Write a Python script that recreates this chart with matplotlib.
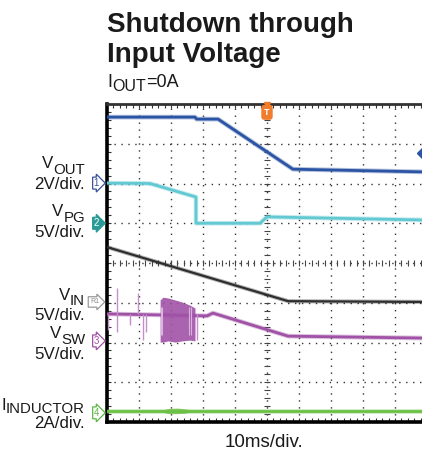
import matplotlib
matplotlib.use("Agg")
import matplotlib.pyplot as plt
import numpy as np

W, H = 422, 454
plt.rcParams["font.family"] = ["Liberation Sans", "DejaVu Sans"]

# Traces in scope divisions: x 0..10 div (10 ms/div), y 0..8 div
top_x = [0.0, 2.75, 2.8, 3.47, 5.81, 10.0]
top_y = [7.67, 7.67, 7.62, 7.62, 6.36, 6.29]

vout_x = [0.0, 1.34, 2.78, 2.78, 4.78, 5.0, 10.0]
vout_y = [6.01, 6.0, 5.66, 5.0, 5.0, 5.16, 5.08]

vin_x = [0.0, 5.66, 10.0]
vin_y = [4.40, 3.04, 3.02]

vsw_x = [0.0, 3.13, 3.31, 5.66, 10.0]
vsw_y = [2.72, 2.67, 2.74, 2.16, 2.11]
vsw_spike_x = [0.03, 0.31, 0.72, 0.97, 1.12, 1.22, 2.8]
vsw_spike_top = [2.72, 3.37, 2.72, 3.25, 2.72, 2.72, 2.72]
vsw_spike_bot = [2.31, 2.26, 2.44, 2.72, 2.06, 2.26, 2.06]
burst_x = [1.66, 1.75, 1.91, 2.13, 2.34, 2.59, 2.75]
burst_top = [3.07, 3.14, 3.12, 3.07, 3.02, 2.94, 2.87]
burst_bot = [2.01, 2.01, 2.04, 2.01, 2.04, 2.06, 2.04]
burst_gap_x = [1.68, 1.72, 2.55, 2.62]

il_x = [0.0, 10.0]
il_y = [0.28, 0.28]
il_bump_x = [1.75, 1.9, 2.2, 2.45, 2.6]
il_bump_top = [0.30, 0.34, 0.35, 0.33, 0.30]
il_bump_bot = [0.25, 0.21, 0.21, 0.22, 0.26]

# channel markers: text, level (div), edge colour, face colour, text colour
markers = [
    ("1", 6.01, "#3b4f9c", "white", "#3b4f9c"),
    ("2", 5.0, "#2a9a96", "#2a9a96", "white"),
    ("R1", 3.02, "#9a9a9a", "white", "#8a8a8a"),
    ("3", 2.04, "#a04fa6", "white", "#a04fa6"),
    ("4", 0.23, "#5fb646", "white", "#5fb646"),
]

BLUE = "#2c54a4"
CYAN = "#62c9d3"
BLACK = "#2e2e2e"
PURPLE = "#a052a6"
GREEN = "#6cc046"
ORANGE = "#f07d2c"

fig = plt.figure(figsize=(W / 100, H / 100), dpi=100)
ax = fig.add_axes([107 / W, (H - 422) / H, 320 / W, 318 / H])
ax.set_xlim(0, 10)
ax.set_ylim(0, 8)

# graticule
for gx in range(1, 10):
    ax.axvline(gx, color="#333333", lw=1.0, ls=(0, (1, 4.0)), zorder=1)
for gy in range(1, 8):
    ax.axhline(gy, color="#333333", lw=1.0, ls=(0, (1, 4.0)), zorder=1)
fine_x = np.arange(0, 10.01, 0.2)
fine_y = np.arange(0, 8.01, 0.2)
ax.plot(fine_x, np.full_like(fine_x, 4), ls="none", marker="|", ms=4, mew=0.8,
        color="#444444", zorder=1)
ax.plot(np.full_like(fine_y, 5), fine_y, ls="none", marker="_", ms=4, mew=0.8,
        color="#444444", zorder=1)

ax.set_xticks(fine_x)
ax.set_yticks(fine_y)
ax.tick_params(direction="in", length=3, width=0.8, color="#333333",
               top=True, bottom=True, left=True, right=False,
               labelbottom=False, labelleft=False)
for side, lw, col in (("left", 2.6, "black"), ("bottom", 2.6, "black"),
                      ("top", 2.0, "#333333"), ("right", 2.0, "#333333")):
    ax.spines[side].set_linewidth(lw)
    ax.spines[side].set_color(col)


def trace(x, y, color, lw=2.0):
    ax.plot(x, y, color=color, lw=lw + 1.4, alpha=0.35, zorder=3, solid_joinstyle="round")
    ax.plot(x, y, color=color, lw=lw, zorder=4, solid_joinstyle="round")


trace(top_x, top_y, BLUE)
trace(vout_x, vout_y, CYAN)
trace(vin_x, vin_y, BLACK, lw=1.6)
trace(vsw_x, vsw_y, PURPLE)
ax.vlines(vsw_spike_x, vsw_spike_bot, vsw_spike_top, color="#c58fca", lw=1.0, zorder=4)
ax.fill_between(burst_x, burst_bot, burst_top, color=PURPLE, alpha=0.9, lw=0, zorder=4)
ax.vlines(burst_gap_x, 2.2, 2.9, color="#d9b3dc", lw=0.8, zorder=5)
trace(il_x, il_y, GREEN)
ax.fill_between(il_bump_x, il_bump_bot, il_bump_top, color=GREEN, alpha=0.8, lw=0, zorder=4)

# trigger marker and reference level marker
ax.text(5.0, 7.79, "T", color="white", fontsize=6.5, fontweight="bold",
        ha="center", va="center", zorder=6, clip_on=False,
        bbox=dict(boxstyle="round,pad=0.25", fc=ORANGE, ec=ORANGE))
ax.plot([5.0], [7.97], marker="v", ms=4, color=ORANGE, zorder=6, clip_on=False)
ax.plot([9.875], [6.77], marker="D", ms=6, color=BLUE, zorder=6, clip_on=False)

for label, level, ec, fc, tc in markers:
    ax.text(-0.25, level, label, color=tc, fontsize=7 if len(label) == 1 else 5,
            ha="right", va="center", clip_on=False, zorder=6,
            bbox=dict(boxstyle="rarrow,pad=0.1" if len(label) == 1 else "rarrow,pad=0.25",
                      fc=fc, ec=ec, lw=0.9))

# text placed in pixel coordinates (origin top left)
renderer = fig.canvas.get_renderer()


def put(x, y, s, size, ha="left", weight="normal"):
    t = fig.text(x / W, 1 - y / H, s, fontsize=size, ha=ha, va="baseline",
                 fontweight=weight, color="#1a1a1a")
    return t


def width(t):
    return t.get_window_extent(renderer).width


def right_label(x, y, main, sub, drop, size=12.2, subsize=10.8):
    t_sub = put(x, y + drop, sub, subsize, ha="right")
    put(x - width(t_sub), y, main, size, ha="right")


put(107, 32, "Shutdown through", 20, weight="bold")
put(107, 62, "Input Voltage", 20, weight="bold")

t_i = put(107, 87, "I", 13)
t_o = put(107 + width(t_i), 91, "OUT", 11.5)
put(107 + width(t_i) + width(t_o), 87, "=0A", 13)

right_label(85, 168, "V", "OUT", 6)
put(85, 189, "2V/div.", 12.2, ha="right")
right_label(85, 216, "V", "PG", 6)
put(85, 237, "5V/div.", 12.2, ha="right")
right_label(85, 300, "V", "IN", 5)
put(85, 320, "5V/div.", 12.2, ha="right")
right_label(85, 338, "V", "SW", 6)
put(85, 359, "5V/div.", 12.2, ha="right")
right_label(85, 410, "I", "INDUCTOR", 3)
put(85, 428, "2A/div.", 12.2, ha="right")

put(264, 447, "10ms/div.", 13.5, ha="center")

fig.savefig("out.png", dpi=100)
